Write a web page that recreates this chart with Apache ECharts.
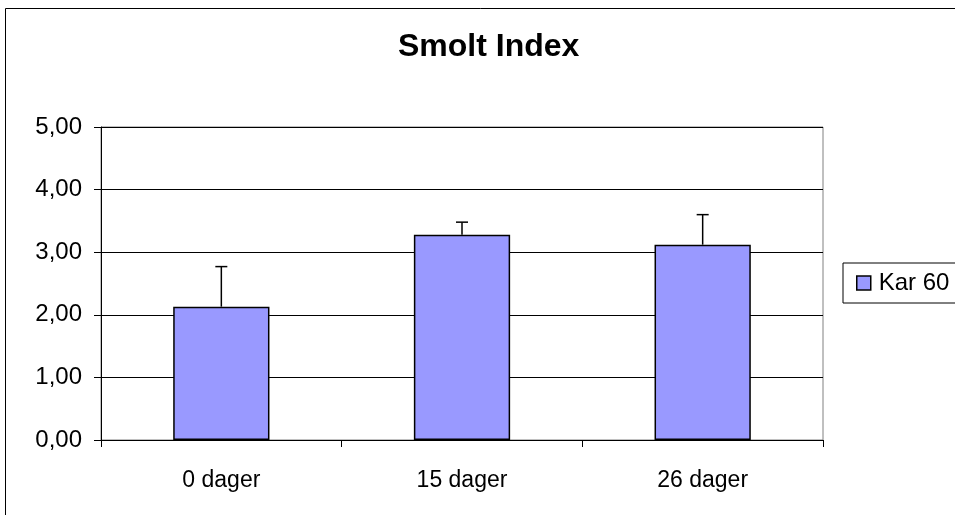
<!DOCTYPE html>
<html>
<head>
<meta charset="utf-8">
<script src="https://cdn.jsdelivr.net/npm/echarts@6/dist/echarts.min.js"></script>
<style>
	html, body { margin: 0; padding: 0; background: #fff; }
	#main { width: 955px; height: 515px; }
</style>
</head>
<body>
<div id="main"></div>
<script>
// values
var categories = [ '0 dager', '15 dager', '26 dager' ];
var seriesName = 'Kar 60';
var means = [ 2.13, 3.28, 3.12 ];
var errorTop = [ 2.77, 3.48, 3.60 ];
var yTicks = [ 0, 1, 2, 3, 4, 5 ];

var font = 'Arial, "Liberation Sans", sans-serif';

function fmt(v) {
	return v.toFixed(2).replace('.', ',');
}

var errorData = [];
for ( var i = 0; i < categories.length; i++) {
	errorData.push([ i, means[i], errorTop[i] ]);
}

var chart = echarts.init(document.getElementById('main'));

var option = {
	animation : false,
	backgroundColor : '#fff',
	title : {
		text : 'Smolt Index',
		left : 398,
		top : 31,
		padding : 0,
		textStyle : {
			fontFamily : font,
			fontSize : 32,
			fontWeight : 'bold',
			color : '#000'
		}
	},
	legend : {
		data : [ {
			name : seriesName,
			icon : 'rect',
			itemStyle : { color : '#9999ff', borderColor : '#000', borderWidth : 1.5 }
		} ],
		left : 843,
		top : 263,
		orient : 'vertical',
		padding : [ 8, 30, 8, 13 ],
		borderColor : '#000',
		borderWidth : 1,
		itemWidth : 14,
		itemHeight : 14,
		textStyle : {
			fontFamily : font,
			fontSize : 24,
			color : '#000',
			padding : [ 0, 0, 0, 3 ]
		}
	},
	grid : {
		left : 101,
		right : 132,
		top : 127,
		bottom : 75,
		show : true,
		borderColor : '#808080',
		borderWidth : 1
	},
	xAxis : {
		type : 'category',
		data : categories,
		boundaryGap : true,
		axisLine : { lineStyle : { color : '#000', width : 1 } },
		axisTick : { show : true, length : 7, lineStyle : { color : '#000' } },
		axisLabel : {
			margin : 29,
			fontFamily : font,
			fontSize : 23,
			color : '#000'
		}
	},
	yAxis : {
		type : 'value',
		min : yTicks[0],
		max : yTicks[yTicks.length - 1],
		interval : 1,
		axisLine : { show : true, lineStyle : { color : '#000', width : 1 } },
		axisTick : { show : true, length : 7, lineStyle : { color : '#000' } },
		splitLine : { show : true, lineStyle : { color : '#000', width : 1 } },
		axisLabel : {
			margin : 19,
			fontFamily : font,
			fontSize : 24,
			color : '#000',
			formatter : fmt
		}
	},
	series : [ {
		name : seriesName,
		type : 'bar',
		data : means,
		barWidth : '40%',
		itemStyle : {
			color : '#9999ff',
			borderColor : '#000',
			borderWidth : 1.5
		},
		z : 2
	}, {
		type : 'custom',
		data : errorData,
		z : 3,
		renderItem : function(params, api) {
			var base = api.coord([ api.value(0), api.value(1) ]);
			var top = api.coord([ api.value(0), api.value(2) ]);
			var half = 6;
			var style = { stroke : '#000', lineWidth : 1.5 };
			return {
				type : 'group',
				children : [ {
					type : 'line',
					shape : { x1 : base[0], y1 : base[1], x2 : top[0], y2 : top[1] },
					style : style
				}, {
					type : 'line',
					shape : { x1 : top[0] - half, y1 : top[1], x2 : top[0] + half, y2 : top[1] },
					style : style
				} ]
			};
		}
	} ],
	graphic : [ {
		type : 'rect',
		shape : { x : 5.5, y : 8.5, width : 1000, height : 600 },
		style : { fill : null, stroke : '#000', lineWidth : 1 },
		silent : true
	} ]
};

chart.setOption(option);
</script>
</body>
</html>
